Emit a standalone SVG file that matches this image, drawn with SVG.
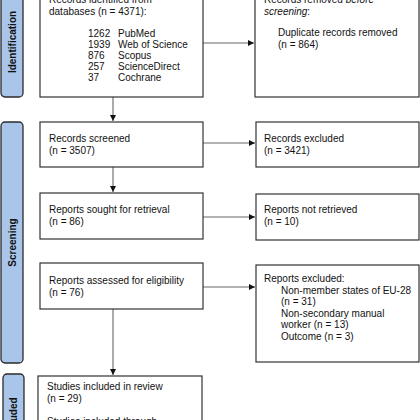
<svg xmlns="http://www.w3.org/2000/svg" width="420" height="420" viewBox="0 0 420 420">
<defs>
<style>
.box{fill:#ffffff;stroke:#333333;stroke-width:1.2}
.bar{fill:#a9c6ea;stroke:#2b2b2b;stroke-width:1.3}
.t{font-family:"Liberation Sans",Arial,sans-serif;font-size:10px;fill:#111111}
.bt{font-family:"Liberation Sans",Arial,sans-serif;font-size:10px;font-weight:bold;fill:#111111}
.c{stroke:#666666;stroke-width:1.1;fill:none;marker-end:url(#ah)}
</style>
<marker id="ah" viewBox="0 0 6 6" refX="6" refY="3" markerWidth="6" markerHeight="6" markerUnits="userSpaceOnUse" orient="auto">
<path d="M0,0 L6,3 L0,6 z" fill="#111111"/>
</marker>
</defs>
<rect width="420" height="420" fill="#ffffff"/>

<g id="bar-identification">
<rect class="bar" x="1" y="-20" width="22" height="117" rx="4"/>
<text class="bt" transform="translate(16,42) rotate(-90)" text-anchor="middle">Identification</text>
</g>
<g id="bar-screening">
<rect class="bar" x="1" y="122" width="22" height="241" rx="4"/>
<text class="bt" transform="translate(16,242.5) rotate(-90)" text-anchor="middle">Screening</text>
</g>
<g id="bar-included">
<rect class="bar" x="3" y="374" width="21" height="80" rx="4"/>
<text class="bt" transform="translate(17,418) rotate(-90)" text-anchor="middle">Included</text>
</g>

<g id="connectors">
<line class="c" x1="113" y1="97" x2="113" y2="121"/>
<line class="c" x1="113" y1="167" x2="113" y2="192"/>
<line class="c" x1="113" y1="309" x2="113" y2="375"/>
<line class="c" x1="203" y1="43" x2="254" y2="43"/>
<line class="c" x1="203" y1="143" x2="255" y2="143"/>
<line class="c" x1="203" y1="217" x2="255" y2="217"/>
<line class="c" x1="203" y1="287" x2="255" y2="287"/>
</g>

<g id="records-identified">
<rect class="box" x="40" y="-12" width="163" height="109"/>
<text class="t" x="49" y="3">Records identified from</text>
<text class="t" x="49" y="14.5">databases (n = 4371):</text>
<text class="t" x="88" y="36.5">1262</text><text class="t" x="118" y="36.5">PubMed</text>
<text class="t" x="88" y="47.6">1939</text><text class="t" x="118" y="47.6">Web of Science</text>
<text class="t" x="88" y="58.7">876</text><text class="t" x="118" y="58.7">Scopus</text>
<text class="t" x="88" y="69.8">257</text><text class="t" x="118" y="69.8">ScienceDirect</text>
<text class="t" x="88" y="80.9">37</text><text class="t" x="118" y="80.9">Cochrane</text>
</g>

<g id="records-removed">
<rect class="box" x="255" y="-12" width="164" height="109"/>
<text class="t" x="264" y="3">Records removed <tspan font-style="italic">before</tspan></text>
<text class="t" x="264" y="14.5"><tspan font-style="italic">screening</tspan>:</text>
<text class="t" x="278" y="36">Duplicate records removed</text>
<text class="t" x="278" y="47.5">(n = 864)</text>
</g>

<g id="records-screened">
<rect class="box" x="40" y="122" width="163" height="45"/>
<text class="t" x="49" y="142">Records screened</text>
<text class="t" x="49" y="154">(n = 3507)</text>
</g>

<g id="records-excluded">
<rect class="box" x="256" y="122" width="163" height="45"/>
<text class="t" x="264" y="142">Records excluded</text>
<text class="t" x="264" y="154">(n = 3421)</text>
</g>

<g id="reports-sought">
<rect class="box" x="40" y="193" width="163" height="46"/>
<text class="t" x="49" y="213">Reports sought for retrieval</text>
<text class="t" x="49" y="225">(n = 86)</text>
</g>

<g id="reports-not-retrieved">
<rect class="box" x="256" y="194" width="163" height="46"/>
<text class="t" x="264" y="213">Reports not retrieved</text>
<text class="t" x="264" y="225">(n = 10)</text>
</g>

<g id="reports-assessed">
<rect class="box" x="40" y="263" width="163" height="46"/>
<text class="t" x="49" y="284">Reports assessed for eligibility</text>
<text class="t" x="49" y="296">(n = 76)</text>
</g>

<g id="reports-excluded">
<rect class="box" x="256" y="265" width="163" height="97"/>
<text class="t" x="264" y="281.5">Reports excluded:</text>
<text class="t" x="281" y="293.5">Non-member states of EU-28</text>
<text class="t" x="281" y="305">(n = 31)</text>
<text class="t" x="281" y="316.5">Non-secondary manual</text>
<text class="t" x="281" y="328">worker (n = 13)</text>
<text class="t" x="281" y="339.5">Outcome (n = 3)</text>
</g>

<g id="studies-included">
<rect class="box" x="38" y="376" width="164" height="80"/>
<text class="t" x="47" y="390">Studies included in review</text>
<text class="t" x="47" y="401.5">(n = 29)</text>
<text class="t" x="47" y="424.5">Studies included through</text>
</g>
</svg>
